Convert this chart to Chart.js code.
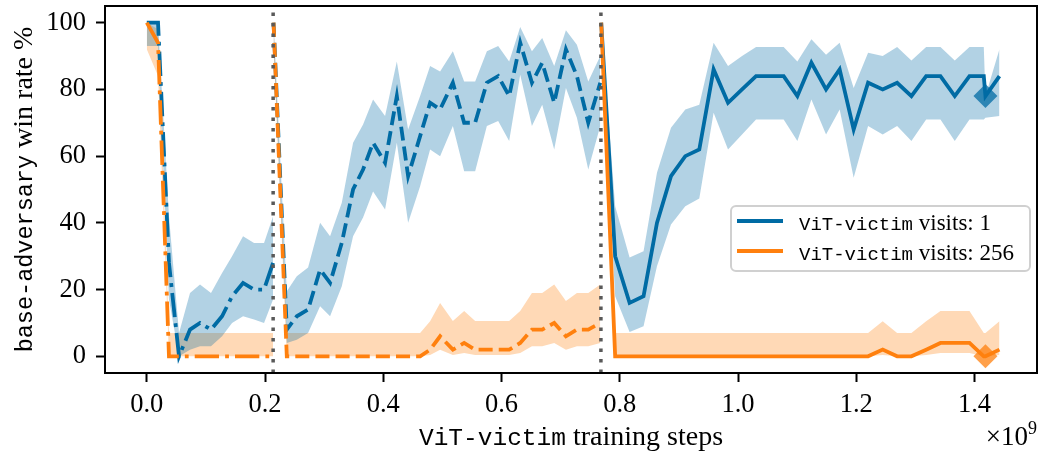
<!DOCTYPE html>
<html>
<head>
<meta charset="utf-8">
<script src="https://cdn.jsdelivr.net/npm/chart.js@4.4.1/dist/chart.umd.min.js"></script>
<style>
  html, body { margin: 0; padding: 0; background: #fff; }
  #wrap { width: 1042px; height: 453px; }
</style>
</head>
<body>
<div id="wrap"><canvas id="winChart" width="1042" height="453"></canvas></div>
<script>
// training steps (x 1e9) per phase
const seg1X = [0.0, 0.019, 0.0375, 0.0545, 0.0731, 0.0900, 0.1086, 0.1273, 0.1442, 0.1628, 0.1814, 0.1983, 0.2136];
const seg2X = [0.2144, 0.2368, 0.2537, 0.2728, 0.2931, 0.3100, 0.3298, 0.3489, 0.3658, 0.3827,
               0.4030, 0.4229, 0.4420, 0.4623, 0.4792, 0.4961, 0.5177, 0.5368, 0.5554, 0.5752,
               0.5943, 0.6129, 0.6316, 0.6514, 0.6688, 0.6891, 0.7089, 0.7275, 0.7467, 0.7670];
const seg3X = [0.7686, 0.7922, 0.8166, 0.8402, 0.8629, 0.8866, 0.9108, 0.9345, 0.9587, 0.9831,
               1.0068, 1.0305, 1.0547, 1.0772, 1.1004, 1.1241, 1.1489, 1.1719, 1.1956, 1.2200,
               1.2447, 1.2691, 1.2933, 1.3182, 1.3424, 1.3666, 1.3915, 1.4157, 1.4185, 1.4422];

// visits: 1
const blue1   = [100, 100, 28, 0, 8, 10, 8, 12, 18, 22, 20, 20, 28];
const blue1Lo = [93, 93, 17, 0, 2, 3, 3, 6, 10, 12, 11, 10, 17];
const blue1Hi = [100, 100, 42, 7, 19, 21.5, 19, 25, 30, 36, 34, 34, 42];
const blue2   = [100, 8, 12, 14, 26, 22, 34, 50, 56, 64, 58, 78, 54, 66, 76, 74, 82, 70, 70, 82,
                 84, 78, 94, 82, 88, 76, 92, 84, 70, 82];
const blue2Lo = [93, 4, 5, 7, 15, 12, 21, 36, 41.6, 49.4, 44, 64, 40, 51, 62, 60, 69, 55.5, 55.5, 69,
                 70.5, 64.5, 84.4, 69, 75.4, 62, 80.4, 71.5, 56, 69];
const blue2Hi = [100, 19.5, 24, 26.6, 40, 36, 46, 64, 69.5, 77, 72, 88.4, 68, 78, 87, 85.4, 91.4, 82.4, 82.4, 91.4,
                 93, 88.4, 98.7, 91.4, 95.4, 87, 97.7, 93.4, 82.4, 90];
const blue3   = [100, 30, 16, 18, 40, 54, 60, 62, 86, 76, 80, 84, 84, 84, 78, 88, 80, 86, 68, 82,
                 80, 82, 78, 84, 84, 78, 84, 84, 78, 84];
const blue3Lo = [93, 18, 7.3, 9, 27, 39.5, 45, 47.3, 73, 62, 66.5, 71, 71, 71, 64.5, 77, 66.5, 74, 53.5, 69,
                 66.5, 69, 64.5, 71, 71, 64.5, 71, 71, 71.5, 72];
const blue3Hi = [100, 45, 29.6, 31.5, 55, 68.5, 74, 75.4, 94, 87, 90, 92.7, 92.7, 92.7, 88.4, 95, 90.4, 94, 80.4, 91,
                 90, 92.7, 88.7, 92.7, 92.7, 88.7, 92.7, 92.7, 78, 92];

// visits: 256
const orange1   = [100, 94, 0, 0, 0, 0, 0, 0, 0, 0, 0, 0, 0];
const orange1Lo = [92, 84, 0, 0, 0, 0, 0, 0, 0, 0, 0, 0, 0];
const orange1Hi = [100, 98, 7, 7, 7, 7, 7, 7, 7, 7, 7, 7, 7];
const orange2   = [100, 0, 0, 0, 0, 0, 0, 0, 0, 0, 0, 0, 0, 0, 2, 6, 2, 4, 2, 2,
                   2, 2, 4, 8, 8, 10, 6, 8, 8, 10];
const orange2Lo = [93, 0, 0, 0, 0, 0, 0, 0, 0, 0, 0, 0, 0, 0, 0.4, 2, 0.4, 1, 0.4, 0.4,
                   0.4, 0.4, 1, 3, 3, 4, 2, 3, 3, 4];
const orange2Hi = [100, 7, 7, 7, 7, 7, 7, 7, 7, 7, 7, 7, 7, 7, 10.5, 16, 10.6, 13.6, 10.6, 10.6,
                   10.6, 10.6, 13.6, 19, 19, 21.5, 16.6, 19, 19, 21.5];
const orange3   = [100, 0, 0, 0, 0, 0, 0, 0, 0, 0, 0, 0, 0, 0, 0, 0, 0, 0, 0, 0,
                   2, 0, 0, 2, 4, 4, 4, 0, 0, 2];
const orange3Lo = [93, 0, 0, 0, 0, 0, 0, 0, 0, 0, 0, 0, 0, 0, 0, 0, 0, 0, 0, 0,
                   0.4, 0, 0, 0.4, 1, 1, 1, 0, 0, 0.4];
const orange3Hi = [100, 7, 7, 7, 7, 7, 7, 7, 7, 7, 7, 7, 7, 7, 7, 7, 7, 7, 7, 7,
                   10.5, 7, 7, 10.5, 13.6, 13.6, 13.6, 7, 7, 10.5];

const markerX = [1.4185];
const blueMarker = [78];
const orangeMarker = [0];
const switchX = [0.2137, 0.7681];

const xTicks = [0.0, 0.2, 0.4, 0.6, 0.8, 1.0, 1.2, 1.4];
const yTicks = [0, 20, 40, 60, 80, 100];

const BLUE = "#006BA4";
const ORANGE = "#FF800E";
const SERIF = "'Liberation Serif', 'DejaVu Serif', serif";
const MONO = "'Liberation Mono', 'DejaVu Sans Mono', monospace";
const LW = 3.8;

function pts(xs, ys) {
  return xs.map((x, i) => ({ x: x, y: ys[i] }));
}

const datasets = [];

// confidence bands first (fill drawn before all lines)
function addBand(xs, lo, hi, color) {
  const loIndex = datasets.length;
  datasets.push({ data: pts(xs, lo), borderWidth: 0, borderColor: "transparent", pointRadius: 0, fill: false, order: 10 });
  datasets.push({ data: pts(xs, hi), borderWidth: 0, borderColor: "transparent", pointRadius: 0,
                  fill: loIndex, backgroundColor: color, order: 10 });
}
addBand(seg1X, blue1Lo, blue1Hi, "rgba(0,107,164,0.3)");
addBand(seg2X, blue2Lo, blue2Hi, "rgba(0,107,164,0.3)");
addBand(seg3X, blue3Lo, blue3Hi, "rgba(0,107,164,0.3)");
addBand(seg1X, orange1Lo, orange1Hi, "rgba(255,128,14,0.3)");
addBand(seg2X, orange2Lo, orange2Hi, "rgba(255,128,14,0.3)");
addBand(seg3X, orange3Lo, orange3Hi, "rgba(255,128,14,0.3)");

const dashDot = [6.4 * LW, 1.6 * LW, 1 * LW, 1.6 * LW];
const dashed = [3.7 * LW, 1.6 * LW];

function addLine(xs, ys, color, dash, order) {
  datasets.push({ data: pts(xs, ys), borderColor: color, borderWidth: LW, borderDash: dash,
                  pointRadius: 0, fill: false, tension: 0, order: order });
}
addLine(seg1X, blue1, BLUE, dashDot, 4);
addLine(seg2X, blue2, BLUE, dashed, 4);
addLine(seg3X, blue3, BLUE, [], 4);
addLine(seg1X, orange1, ORANGE, dashDot, 3);
addLine(seg2X, orange2, ORANGE, dashed, 3);
addLine(seg3X, orange3, ORANGE, [], 3);

// final checkpoint markers
datasets.push({ data: pts(markerX, blueMarker), showLine: false, pointStyle: "rectRot", pointRadius: 12,
                backgroundColor: "rgba(0,107,164,0.75)", borderWidth: 0, order: 2 });
datasets.push({ data: pts(markerX, orangeMarker), showLine: false, pointStyle: "rectRot", pointRadius: 12,
                backgroundColor: "rgba(255,128,14,0.75)", borderWidth: 0, order: 2 });

// adversary switch points
switchX.forEach(v => {
  datasets.push({ data: [{ x: v, y: -5 }, { x: v, y: 105 }], borderColor: "#595959", borderWidth: 3.5,
                  borderDash: [3.5, 7], pointRadius: 0, fill: false, order: 1 });
});

function drawMixed(ctx, parts, x, y, align) {
  let total = 0;
  parts.forEach(p => { ctx.font = p.font; p.w = ctx.measureText(p.text).width; total += p.w; });
  let cx = align === "center" ? x - total / 2 : (align === "right" ? x - total : x);
  ctx.textAlign = "left";
  ctx.textBaseline = "alphabetic";
  parts.forEach(p => { ctx.font = p.font; ctx.fillText(p.text, cx, y + (p.dy || 0)); cx += p.w; });
}

const decorations = {
  id: "decorations",
  afterDraw(chart) {
    const ctx = chart.ctx;
    const a = chart.chartArea;
    ctx.save();
    // frame
    ctx.strokeStyle = "#000";
    ctx.lineWidth = 2;
    ctx.strokeRect(a.left, a.top, a.right - a.left, a.bottom - a.top);

    ctx.fillStyle = "#000";
    // x title
    drawMixed(ctx, [
      { text: "ViT-victim", font: "24.5px " + MONO },
      { text: " training steps", font: "28px " + SERIF }
    ], (a.left + a.right) / 2, 445, "center");
    // offset text
    drawMixed(ctx, [
      { text: "\u00d710", font: "27px " + SERIF },
      { text: "9", font: "18px " + SERIF, dy: -11 }
    ], a.right, 445, "right");
    // y title
    ctx.save();
    ctx.translate(31.5, (a.top + a.bottom) / 2);
    ctx.rotate(-Math.PI / 2);
    drawMixed(ctx, [
      { text: "base-adversary", font: "23.5px " + MONO },
      { text: " win rate %", font: "28px " + SERIF }
    ], 0, 0, "center");
    ctx.restore();

    // legend
    const lx = 731, ly = 206, lw = 299, lh = 65, r = 5;
    ctx.beginPath();
    ctx.moveTo(lx + r, ly);
    ctx.arcTo(lx + lw, ly, lx + lw, ly + lh, r);
    ctx.arcTo(lx + lw, ly + lh, lx, ly + lh, r);
    ctx.arcTo(lx, ly + lh, lx, ly, r);
    ctx.arcTo(lx, ly, lx + lw, ly, r);
    ctx.closePath();
    ctx.fillStyle = "rgba(255,255,255,0.8)";
    ctx.fill();
    ctx.strokeStyle = "#d0d0d0";
    ctx.lineWidth = 2;
    ctx.stroke();

    const entries = [["1", BLUE, 221, 230], ["256", ORANGE, 251, 260]];
    entries.forEach(e => {
      ctx.strokeStyle = e[1];
      ctx.lineWidth = LW;
      ctx.setLineDash([]);
      ctx.beginPath();
      ctx.moveTo(737, e[2]);
      ctx.lineTo(783, e[2]);
      ctx.stroke();
      ctx.fillStyle = "#000";
      drawMixed(ctx, [
        { text: "ViT-victim", font: "19px " + MONO },
        { text: " visits: " + e[0], font: "23px " + SERIF }
      ], 799, e[3], "left");
    });
    ctx.restore();
  }
};

const tickFont = { family: SERIF, size: 26.5 };

function noPad(s) {
  s.paddingTop = 0;
  s.paddingBottom = 0;
  s.paddingLeft = 0;
  s.paddingRight = 0;
}

const config = {
  type: "line",
  data: { datasets: datasets },
  options: {
    responsive: false,
    animation: false,
    events: [],
    layout: { autoPadding: false, padding: { left: 0, right: 5, top: 6, bottom: 0 } },
    plugins: {
      legend: { display: false },
      tooltip: { enabled: false },
      filler: { drawTime: "beforeDatasetsDraw" }
    },
    scales: {
      x: {
        type: "linear",
        min: -0.0707,
        max: 1.5057,
        afterBuildTicks: s => { s.ticks = xTicks.map(v => ({ value: v })); },
        afterFit: s => { s.height = 80; noPad(s); },
        grid: { drawOnChartArea: false, drawTicks: true, tickLength: 9, tickWidth: 2, tickColor: "#000" },
        border: { display: true, color: "#000", width: 2 },
        ticks: { callback: v => v.toFixed(1), padding: 7, color: "#000", font: tickFont,
                 maxRotation: 0, autoSkip: false }
      },
      y: {
        type: "linear",
        min: -5,
        max: 105,
        afterBuildTicks: s => { s.ticks = yTicks.map(v => ({ value: v })); },
        afterFit: s => { s.width = 105; noPad(s); },
        grid: { drawOnChartArea: false, drawTicks: true, tickLength: 9, tickWidth: 2, tickColor: "#000" },
        border: { display: true, color: "#000", width: 2 },
        ticks: { padding: 10, color: "#000", font: tickFont, autoSkip: false }
      }
    }
  },
  plugins: [decorations]
};

const winChart = new Chart(document.getElementById("winChart"), config);
</script>
</body>
</html>
